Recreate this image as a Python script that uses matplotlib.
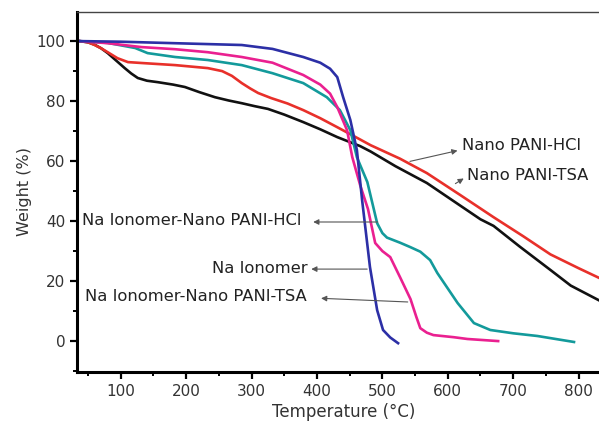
import matplotlib
matplotlib.use("Agg")
import matplotlib.pyplot as plt
from matplotlib.ticker import MultipleLocator

plt.rcParams['font.family'] = ['DejaVu Sans']

# TGA curves: temperature (°C), weight (%)
tsa_t = [37, 50, 60, 70, 80, 93, 106, 116, 126, 140, 157, 180, 198, 220, 244, 265, 285, 305, 325, 350, 379, 405, 431, 466, 482, 520, 568, 610, 650, 670, 710, 757, 788, 832]
tsa_w = [100, 99.6, 98.8, 97.6, 96, 93.5, 91, 89.2, 87.7, 86.8, 86.3, 85.5, 84.7, 83, 81.3, 80.2, 79.3, 78.3, 77.4, 75.5, 73, 70.6, 68, 65, 63.2, 58.3, 52.7, 46.5, 40.6, 38.4, 31.5, 23.7, 18.5, 13.5]

hcl_t = [37, 50, 60, 70, 80, 95, 111, 132, 183, 233, 255, 270, 285, 298, 310, 330, 355, 379, 405, 431, 466, 482, 527, 568, 619, 670, 715, 757, 800, 832]
hcl_w = [100, 99.6, 98.7, 97.6, 96.3, 94.3, 93, 92.7, 92, 91, 90, 88.4, 86, 84.2, 82.7, 81, 79.2, 77, 74.3, 71.3, 67.2, 65.3, 60.8, 56, 48.7, 41.3, 35, 28.9, 24.3, 21]

ion_t = [37, 100, 183, 285, 332, 379, 405, 420, 431, 440, 451, 461, 469, 481, 492, 501, 512, 524]
ion_w = [100, 99.8, 99.3, 98.7, 97.4, 94.7, 92.8, 90.8, 88, 81.3, 73.7, 63.7, 47, 24.7, 10.3, 3.7, 1.2, -0.7]

ion_tsa_t = [37, 80, 132, 183, 233, 285, 332, 379, 405, 420, 431, 446, 454, 466, 478, 489, 500, 512, 527, 543, 552, 558, 568, 578, 609, 630, 677]
ion_tsa_w = [100, 99.3, 98, 97.3, 96.3, 94.7, 92.8, 88.7, 85.5, 82.5, 78, 70.3, 61.3, 52, 44, 32.7, 30, 28, 21.3, 14, 8, 4.3, 2.8, 2, 1.3, 0.7, 0]

ion_hcl_t = [37, 80, 122, 141, 183, 233, 285, 332, 379, 415, 435, 451, 461, 477, 492, 500, 507, 527, 543, 558, 573, 584, 615, 640, 665, 700, 737, 793]
ion_hcl_w = [100, 99.4, 97.7, 96, 94.7, 93.7, 92, 89.3, 86, 81.3, 77, 70.3, 61.3, 53, 39.3, 36, 34.5, 32.8, 31.3, 29.8, 27, 22.7, 12.7, 6, 3.7, 2.6, 1.7, -0.3]

x_ticks = [100, 200, 300, 400, 500, 600, 700, 800]
y_ticks = [0, 20, 40, 60, 80, 100]

fig = plt.figure(figsize=(5.99, 4.23), dpi=100)
ax = fig.add_axes([0.1285, 0.1206, 0.892, 0.851])

ax.plot(tsa_t, tsa_w, color='#111111', lw=1.9)
ax.plot(hcl_t, hcl_w, color='#e8302a', lw=1.9)
ax.plot(ion_hcl_t, ion_hcl_w, color='#139a9b', lw=1.9)
ax.plot(ion_tsa_t, ion_tsa_w, color='#ea2090', lw=1.9)
ax.plot(ion_t, ion_w, color='#2c2fa6', lw=1.9)

ax.set_xlim(33, 850)
ax.set_ylim(-10.3, 109.7)
ax.set_xticks(x_ticks)
ax.set_yticks(y_ticks)
ax.xaxis.set_minor_locator(MultipleLocator(50))
ax.yaxis.set_minor_locator(MultipleLocator(10))
ax.tick_params(which='major', direction='out', length=5, width=1.6, labelsize=11, labelcolor='#333333')
ax.tick_params(which='minor', direction='out', length=3, width=1.4)

for s in ['left', 'bottom']:
    ax.spines[s].set_linewidth(2.2)
ax.spines['top'].set_linewidth(1.0)
ax.spines['top'].set_color('#444444')
ax.spines['right'].set_visible(False)

ax.set_xlabel('Temperature (°C)', fontsize=12, color='#333333', labelpad=3)
ax.set_ylabel('Weight (%)', fontsize=11.5, color='#333333', labelpad=3)

txt = dict(fontsize=11.8, color='#222222', va='center')
arrow = dict(arrowstyle='-|>', color='#555555', lw=0.8, mutation_scale=8)

ax.text(621, 65.3, 'Nano PANI-HCl', ha='left', **txt)
ax.annotate('', xy=(619, 63.7), xytext=(538, 59.7), arrowprops=arrow)
ax.text(630, 55.3, 'Nano PANI-TSA', ha='left', **txt)
ax.annotate('', xy=(628, 54.7), xytext=(608, 52), arrowprops=arrow)

ax.text(40, 40.3, 'Na Ionomer-Nano PANI-HCl', ha='left', **txt)
ax.annotate('', xy=(390, 39.7), xytext=(497, 39.7), arrowprops=arrow)
ax.text(385, 24.3, 'Na Ionomer', ha='right', **txt)
ax.annotate('', xy=(387, 24), xytext=(481, 24), arrowprops=arrow)
ax.text(45, 14.7, 'Na Ionomer-Nano PANI-TSA', ha='left', **txt)
ax.annotate('', xy=(402, 14.3), xytext=(543, 13), arrowprops=arrow)

fig.savefig('out.png', dpi=100)
